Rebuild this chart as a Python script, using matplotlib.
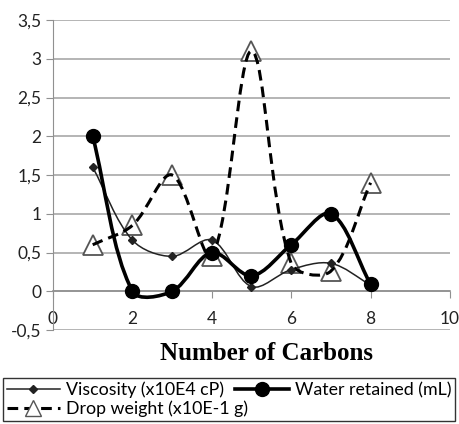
import numpy as np
import matplotlib.pyplot as plt
from matplotlib.path import Path
from matplotlib.patches import PathPatch
from matplotlib.lines import Line2D
from matplotlib.ticker import FuncFormatter

carbons = [1, 2, 3, 4, 5, 6, 7, 8]
viscosity = [1.6, 0.66, 0.45, 0.66, 0.06, 0.28, 0.36, 0.08]
water = [2.0, 0.0, 0.0, 0.5, 0.2, 0.6, 1.0, 0.09]
drop = [0.6, 0.85, 1.5, 0.45, 3.1, 0.36, 0.26, 1.4]


def smooth_path(ax, xs, ys):
    # Excel-like smoothed line: Bezier segments, tangents weighted by screen lengths
    pts = ax.transData.transform(np.column_stack([xs, ys]))
    n = len(pts)
    verts = [pts[0]]
    codes = [Path.MOVETO]
    for i in range(n - 1):
        p0 = pts[i - 1] if i > 0 else pts[i]
        p1 = pts[i]
        p2 = pts[i + 1]
        p3 = pts[i + 2] if i + 2 < n else pts[i + 1]
        d01 = np.hypot(*(p1 - p0))
        d12 = np.hypot(*(p2 - p1))
        d23 = np.hypot(*(p3 - p2))
        f1 = d12 / (d01 + d12) / 3 if d01 + d12 > 0 else 0
        f2 = d12 / (d12 + d23) / 3 if d12 + d23 > 0 else 0
        c1 = p1 + f1 * (p2 - p0)
        c2 = p2 - f2 * (p3 - p1)
        verts += [c1, c2, p2]
        codes += [Path.CURVE4] * 3
    verts = ax.transData.inverted().transform(np.array(verts))
    return Path(verts, codes)


plt.rcParams['font.family'] = ['Lato', 'DejaVu Sans']

fig = plt.figure(figsize=(4.6, 4.24), dpi=100)
ax = fig.add_axes([53 / 460, (424 - 330) / 424, 397 / 460, 310 / 424])

ax.set_xlim(0, 10)
ax.set_ylim(-0.5, 3.5)
ax.set_xticks([0, 2, 4, 6, 8, 10])
ax.set_yticks([-0.5, 0, 0.5, 1, 1.5, 2, 2.5, 3, 3.5])
ax.yaxis.set_major_formatter(FuncFormatter(lambda v, p: f"{v:g}".replace(".", ",")))
ax.grid(axis="y", color="#a8a8a8", linewidth=1.2)
ax.set_axisbelow(True)

for s in ["top", "right"]:
    ax.spines[s].set_visible(False)
ax.spines["left"].set_color("#909090")
ax.spines["bottom"].set_position(("data", 0))
ax.spines["bottom"].set_color("#909090")
ax.spines["bottom"].set_linewidth(1.2)
ax.tick_params(axis="y", colors="#909090", labelcolor="#222222", labelsize=12.5, length=5)
ax.tick_params(axis="x", colors="#909090", labelcolor="#222222", labelsize=12.5, length=5, pad=9)

# smoothed lines
ax.add_patch(PathPatch(smooth_path(ax, carbons, viscosity), fill=False, lw=1.1, color="#222222", zorder=3))
ax.add_patch(PathPatch(smooth_path(ax, carbons, water), fill=False, lw=2.6, color="black", zorder=4))
ax.add_patch(PathPatch(smooth_path(ax, carbons, drop), fill=False, lw=2.2, color="black",
                       linestyle=(0, (3.5, 2)), zorder=3))

# markers
ax.plot(carbons, drop, linestyle="none", marker="^", markersize=14, markerfacecolor="white",
        markeredgecolor="#555555", markeredgewidth=1.3, zorder=2.5)
ax.plot(carbons, viscosity, linestyle="none", marker="D", markersize=4.5, color="#222222", zorder=5)
ax.plot(carbons, water, linestyle="none", marker="o", markersize=10, color="black", zorder=6)

fig.text(267 / 460, 1 - 353 / 424, "Number of Carbons", ha="center", va="center", fontsize=18,
         fontweight="bold", family="Liberation Serif")

h_visc = Line2D([], [], color="#222222", lw=1.1, marker="D", markersize=4.5)
h_water = Line2D([], [], color="black", lw=2.6, marker="o", markersize=10)
h_drop = Line2D([], [], color="black", lw=2.2, linestyle=(0, (3.5, 2)), marker="^", markersize=11,
                markerfacecolor="white", markeredgecolor="#555555")
leg = fig.legend([h_visc, h_drop, h_water],
                 ["Viscosity (x10E4 cP)", "Drop weight (x10E-1 g)", "Water retained (mL)"],
                 ncol=2, loc="lower left", mode="expand",
                 bbox_to_anchor=(3 / 460, 1 - 421 / 424, 452 / 460, 48 / 424),
                 fontsize=12.8, frameon=True, fancybox=False, edgecolor="black",
                 handlelength=3.0, handletextpad=0.35, columnspacing=0.8, labelspacing=0.15,
                 borderpad=0.2, borderaxespad=0)
leg.get_frame().set_linewidth(1.0)

fig.savefig("out.png", dpi=100)
